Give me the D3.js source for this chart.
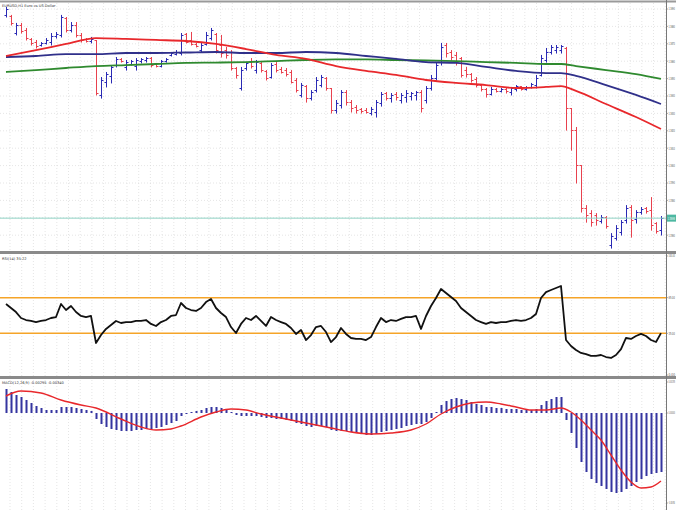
<!DOCTYPE html>
<html>
<head>
<meta charset="utf-8">
<script src="https://cdn.jsdelivr.net/npm/d3@7"></script>
<style>
  body { margin: 0; background: #fff; }
  svg { display: block; font-family: "DejaVu Sans", sans-serif; }
</style>
</head>
<body>
<div id="chart"></div>
<script>
// EURUSD H1 bars
const openP = [1.36866,1.36860,1.36762,1.36808,1.36779,1.36728,1.36710,1.36693,1.36705,1.36710,
  1.36745,1.36751,1.36848,1.36779,1.36808,1.36751,1.36728,1.36716,1.36722,1.36406,
  1.36480,1.36515,1.36578,1.36613,1.36567,1.36584,1.36572,1.36601,1.36607,1.36618,
  1.36584,1.36572,1.36601,1.36636,1.36641,1.36647,1.36756,1.36722,1.36699,1.36664,
  1.36699,1.36733,1.36756,1.36693,1.36664,1.36653,1.36561,1.36446,1.36561,1.36595,
  1.36549,1.36590,1.36544,1.36509,1.36584,1.36555,1.36549,1.36538,1.36492,1.36406,
  1.36457,1.36388,1.36434,1.36463,1.36503,1.36446,1.36319,1.36348,1.36423,1.36365,
  1.36337,1.36325,1.36319,1.36302,1.36308,1.36360,1.36417,1.36388,1.36411,1.36377,
  1.36394,1.36400,1.36406,1.36423,1.36377,1.36446,1.36503,1.36595,1.36693,1.36653,
  1.36636,1.36618,1.36549,1.36526,1.36498,1.36463,1.36440,1.36411,1.36440,1.36429,
  1.36440,1.36423,1.36440,1.36457,1.36440,1.36452,1.36463,1.36521,1.36607,1.36653,
  1.36664,1.36664,1.36676,1.36331,1.36204,1.36003,1.35756,1.35727,1.35716,1.35681,
  1.35704,1.35543,1.35583,1.35618,1.35687,1.35762,1.35693,1.35733,1.35756,1.35744,
  1.35670,1.35629];
const highP = [1.36912,1.36866,1.36820,1.36820,1.36791,1.36733,1.36722,1.36710,1.36733,1.36762,
  1.36768,1.36866,1.36854,1.36825,1.36825,1.36762,1.36733,1.36739,1.36722,1.36509,
  1.36538,1.36578,1.36624,1.36618,1.36607,1.36607,1.36618,1.36618,1.36624,1.36624,
  1.36590,1.36607,1.36618,1.36653,1.36664,1.36762,1.36762,1.36768,1.36705,1.36705,
  1.36768,1.36791,1.36762,1.36751,1.36682,1.36664,1.36567,1.36567,1.36595,1.36618,
  1.36607,1.36595,1.36549,1.36590,1.36595,1.36567,1.36561,1.36549,1.36503,1.36475,
  1.36463,1.36434,1.36509,1.36521,1.36509,1.36446,1.36377,1.36434,1.36434,1.36377,
  1.36348,1.36331,1.36331,1.36337,1.36377,1.36423,1.36423,1.36417,1.36423,1.36417,
  1.36434,1.36423,1.36429,1.36434,1.36457,1.36521,1.36590,1.36705,1.36705,1.36664,
  1.36653,1.36624,1.36567,1.36532,1.36509,1.36469,1.36446,1.36452,1.36446,1.36446,
  1.36446,1.36452,1.36463,1.36457,1.36457,1.36475,1.36521,1.36636,1.36676,1.36693,
  1.36693,1.36693,1.36682,1.36331,1.36222,1.36003,1.35773,1.35744,1.35727,1.35716,
  1.35710,1.35612,1.35658,1.35687,1.35773,1.35773,1.35744,1.35762,1.35762,1.35819,
  1.35675,1.35710];
const lowP = [1.36854,1.36808,1.36751,1.36762,1.36722,1.36693,1.36676,1.36687,1.36699,1.36693,
  1.36733,1.36739,1.36768,1.36768,1.36739,1.36710,1.36710,1.36705,1.36406,1.36388,
  1.36452,1.36475,1.36567,1.36595,1.36549,1.36578,1.36549,1.36590,1.36595,1.36567,
  1.36567,1.36567,1.36595,1.36630,1.36636,1.36636,1.36705,1.36693,1.36682,1.36653,
  1.36693,1.36722,1.36647,1.36624,1.36618,1.36549,1.36503,1.36434,1.36549,1.36561,
  1.36532,1.36538,1.36492,1.36503,1.36538,1.36532,1.36515,1.36475,1.36423,1.36394,
  1.36365,1.36377,1.36423,1.36452,1.36434,1.36302,1.36302,1.36331,1.36348,1.36308,
  1.36302,1.36302,1.36302,1.36291,1.36279,1.36342,1.36377,1.36365,1.36377,1.36360,
  1.36365,1.36377,1.36377,1.36308,1.36360,1.36434,1.36492,1.36578,1.36624,1.36607,
  1.36578,1.36509,1.36509,1.36480,1.36452,1.36429,1.36394,1.36406,1.36423,1.36423,
  1.36417,1.36406,1.36429,1.36434,1.36434,1.36446,1.36446,1.36515,1.36595,1.36641,
  1.36647,1.36647,1.36204,1.36089,1.35900,1.35733,1.35675,1.35652,1.35658,1.35670,
  1.35641,1.35526,1.35572,1.35601,1.35670,1.35589,1.35670,1.35721,1.35727,1.35629,
  1.35612,1.35601];
const closeP = [1.36900,1.36820,1.36808,1.36774,1.36733,1.36705,1.36687,1.36705,1.36722,1.36745,
  1.36756,1.36854,1.36779,1.36808,1.36751,1.36722,1.36716,1.36728,1.36417,1.36492,
  1.36526,1.36567,1.36613,1.36601,1.36595,1.36601,1.36607,1.36613,1.36618,1.36578,
  1.36572,1.36601,1.36613,1.36647,1.36653,1.36751,1.36710,1.36699,1.36687,1.36693,
  1.36751,1.36779,1.36664,1.36647,1.36636,1.36561,1.36521,1.36549,1.36590,1.36572,
  1.36595,1.36549,1.36503,1.36578,1.36549,1.36538,1.36526,1.36480,1.36434,1.36463,
  1.36388,1.36423,1.36492,1.36509,1.36446,1.36319,1.36360,1.36423,1.36365,1.36331,
  1.36319,1.36314,1.36308,1.36325,1.36365,1.36411,1.36388,1.36406,1.36394,1.36406,
  1.36417,1.36417,1.36423,1.36331,1.36446,1.36503,1.36578,1.36682,1.36647,1.36624,
  1.36595,1.36521,1.36526,1.36492,1.36463,1.36440,1.36411,1.36440,1.36429,1.36440,
  1.36429,1.36446,1.36457,1.36440,1.36452,1.36469,1.36503,1.36618,1.36653,1.36682,
  1.36682,1.36687,1.36331,1.36204,1.36003,1.35756,1.35716,1.35675,1.35687,1.35704,
  1.35652,1.35595,1.35641,1.35675,1.35756,1.35687,1.35733,1.35750,1.35739,1.35658,
  1.35624,1.35698];

// moving averages, read at these bar numbers
const maBars = [0,6,12,18,24,30,36,42,48,54,60,66,72,78,84,90,96,102,108,111,114,120,126,131];
const maRed = [1.36630,1.36664,1.36699,1.36733,1.36728,1.36722,1.36716,1.36699,1.36670,1.36636,
  1.36613,1.36572,1.36544,1.36521,1.36492,1.36475,1.36463,1.36446,1.36452,1.36457,
  1.36429,1.36354,1.36279,1.36210];
const maBlue = [1.36624,1.36630,1.36641,1.36641,1.36647,1.36647,1.36650,1.36653,1.36647,1.36647,
  1.36653,1.36647,1.36630,1.36613,1.36595,1.36590,1.36567,1.36544,1.36532,1.36532,
  1.36515,1.36463,1.36406,1.36354];
const maGreen = [1.36538,1.36549,1.36561,1.36572,1.36578,1.36584,1.36590,1.36592,1.36595,1.36601,
  1.36607,1.36610,1.36610,1.36607,1.36604,1.36601,1.36595,1.36590,1.36584,1.36584,
  1.36572,1.36549,1.36526,1.36498];

const rsiVals = [59.7,56.3,52.9,47.9,46.2,45.4,44.5,45.4,46.2,47.9,
  48.7,59.7,54.6,58.0,52.9,49.6,48.7,49.6,26.9,33.6,
  38.7,42.0,45.4,43.7,44.5,44.5,45.4,45.4,46.2,42.9,
  41.2,44.5,46.2,49.6,50.4,60.5,56.3,54.6,53.8,56.3,
  61.3,63.9,56.3,52.1,48.7,40.3,35.3,42.9,47.9,46.2,
  49.6,45.4,41.2,48.7,46.2,44.5,42.9,39.5,34.5,37.8,
  29.4,33.6,40.3,41.2,36.1,27.7,31.9,39.5,34.5,31.1,
  30.3,30.3,29.4,31.9,40.3,47.9,44.5,46.2,45.4,47.1,
  48.7,48.7,49.6,38.7,49.6,58.0,64.7,72.3,68.9,65.5,
  62.2,56.3,52.9,49.6,46.2,44.5,42.9,44.5,43.7,44.5,
  44.5,45.4,46.2,45.4,46.2,47.9,51.3,64.7,69.7,71.4,
  73.1,74.8,29.4,24.4,21.0,18.5,17.6,16.0,16.0,16.8,
  15.1,14.3,16.8,21.8,31.1,30.3,32.8,34.5,32.8,29.4,
  27.7,35.22];
const rsiLevels = [65, 35];
const rsiLabels = [100, 65, 35, 0];

const macdHist = [0.00120,0.00105,0.00090,0.00080,0.00065,0.00050,0.00035,0.00025,0.00015,0.00015,
  0.00015,0.00030,0.00030,0.00030,0.00025,0.00020,0.00015,0.00010,-0.00030,-0.00055,
  -0.00070,-0.00080,-0.00085,-0.00090,-0.00090,-0.00090,-0.00085,-0.00085,-0.00080,-0.00080,
  -0.00075,-0.00070,-0.00060,-0.00050,-0.00040,-0.00015,-0.00005,0.00005,0.00010,0.00015,
  0.00025,0.00030,0.00030,0.00025,0.00020,0.00005,-0.00010,-0.00015,-0.00015,-0.00015,
  -0.00015,-0.00020,-0.00025,-0.00025,-0.00030,-0.00030,-0.00035,-0.00040,-0.00050,-0.00055,
  -0.00065,-0.00070,-0.00065,-0.00065,-0.00070,-0.00085,-0.00090,-0.00090,-0.00090,-0.00095,
  -0.00100,-0.00105,-0.00110,-0.00110,-0.00105,-0.00095,-0.00090,-0.00085,-0.00080,-0.00075,
  -0.00065,-0.00060,-0.00055,-0.00055,-0.00045,-0.00025,0.00005,0.00040,0.00060,0.00070,
  0.00075,0.00070,0.00065,0.00055,0.00045,0.00040,0.00030,0.00030,0.00025,0.00025,
  0.00020,0.00020,0.00020,0.00015,0.00015,0.00015,0.00020,0.00040,0.00060,0.00070,
  0.00080,0.00080,-0.00035,-0.00100,-0.00175,-0.00245,-0.00295,-0.00330,-0.00350,-0.00365,
  -0.00380,-0.00395,-0.00400,-0.00395,-0.00380,-0.00365,-0.00345,-0.00330,-0.00315,-0.00305,
  -0.00300,-0.00295];
const sigBars = [0,3,7,11,15,18,23,27,30,33,35,39,42,45,48,51,55,59,65,69,73,77,81,84,87,90,93,96,99,102,105,108,111,113,115,117,119,121,123,125,127,129,131];
const sigVals = [0.00085,0.00110,0.00100,0.00065,0.00040,0.00025,-0.00030,-0.00070,-0.00085,-0.00080,
  -0.00065,-0.00020,0.00005,0.00020,0.00015,-0.00005,-0.00025,-0.00045,-0.00075,-0.00095,
  -0.00105,-0.00100,-0.00085,-0.00055,-0.00005,0.00030,0.00050,0.00055,0.00045,0.00030,
  0.00015,0.00015,0.00025,0.00005,-0.00035,-0.00085,-0.00135,-0.00210,-0.00285,-0.00345,
  -0.00375,-0.00370,-0.00340];
const macdLabels = [0.00155, 0, -0.0045];

const priceTicks = d3.range(0, 14).map(k => +(1.3690 - k * 0.0010).toFixed(4));

const W = 676, H = 510, plotR = 666;
const upCol = "#2a2ab4", dnCol = "#e8414e";

const svg = d3.select("#chart").append("svg")
  .attr("width", W).attr("height", H);

svg.append("rect").attr("width", W).attr("height", H).attr("fill", "#fff");

const x = d3.scaleLinear().domain([0, closeP.length - 1]).range([6, 661]);
const yP = d3.scaleLinear().domain([1.3560, 1.3690]).range([235.2, 9]);
const yR = d3.scaleLinear().domain([0, 100]).range([375, 256]);
const yM = d3.scaleLinear().domain([-0.0045, 0.00155]).range([503, 382]);

// grid
const grid = svg.append("g").attr("stroke", "#d4d4d4").attr("stroke-dasharray", "1,2").attr("stroke-width", 0.6);
[[3, 250], [255, 376], [380, 510]].forEach(([a, b]) => {
  d3.range(10, plotR, 11.7).forEach(gx => {
    grid.append("line").attr("x1", gx).attr("x2", gx).attr("y1", a).attr("y2", b);
  });
});
priceTicks.forEach(t => {
  grid.append("line").attr("x1", 0).attr("x2", plotR).attr("y1", yP(t)).attr("y2", yP(t));
});

// price bars
const idx = d3.range(closeP.length);
const bars = svg.append("g").attr("stroke-width", 1);
idx.forEach(i => {
  const col = closeP[i] >= openP[i] ? upCol : dnCol;
  const cx = Math.round(x(i)) + 0.5;
  bars.append("line").attr("x1", cx).attr("x2", cx)
    .attr("y1", yP(highP[i])).attr("y2", yP(lowP[i]) + 0.5).attr("stroke", col);
  bars.append("line").attr("x1", cx - 2).attr("x2", cx)
    .attr("y1", Math.round(yP(openP[i])) + 0.5).attr("y2", Math.round(yP(openP[i])) + 0.5).attr("stroke", col);
  bars.append("line").attr("x1", cx).attr("x2", cx + 2)
    .attr("y1", Math.round(yP(closeP[i])) + 0.5).attr("y2", Math.round(yP(closeP[i])) + 0.5).attr("stroke", col);
});

// moving averages
const maLine = d3.line().x(d => x(d[0])).y(d => yP(d[1])).curve(d3.curveMonotoneX);
[[maGreen, "#2f8a2f"], [maBlue, "#30308a"], [maRed, "#e8282c"]].forEach(([vals, col]) => {
  svg.append("path").datum(maBars.map((b, k) => [b, vals[k]]))
    .attr("d", maLine).attr("fill", "none").attr("stroke", col).attr("stroke-width", 1.8);
});

// current price line
const lastClose = closeP[closeP.length - 1];
svg.append("line").attr("x1", 0).attr("x2", plotR).attr("y1", yP(lastClose)).attr("y2", yP(lastClose))
  .attr("stroke", "#8fd3c4").attr("stroke-width", 1);

// RSI pane
svg.append("g").selectAll("line").data(rsiLevels).join("line")
  .attr("x1", 0).attr("x2", plotR).attr("y1", d => yR(d)).attr("y2", d => yR(d))
  .attr("stroke", "#f5a428").attr("stroke-width", 1.5);
svg.append("path").datum(rsiVals)
  .attr("d", d3.line().x((d, i) => x(i)).y(d => yR(d)))
  .attr("fill", "none").attr("stroke", "#111").attr("stroke-width", 1.8).attr("stroke-linejoin", "round");

// MACD pane
svg.append("g").selectAll("rect").data(macdHist).join("rect")
  .attr("x", (d, i) => Math.round(x(i)) - 0.5)
  .attr("width", 2)
  .attr("y", d => Math.min(yM(0), yM(d)))
  .attr("height", d => Math.abs(yM(d) - yM(0)))
  .attr("fill", "#3535a0");
svg.append("path").datum(sigBars.map((b, k) => [b, sigVals[k]]))
  .attr("d", d3.line().x(d => x(d[0])).y(d => yM(d[1])).curve(d3.curveMonotoneX))
  .attr("fill", "none").attr("stroke", "#e8282c").attr("stroke-width", 1.4);

// frame and separators
svg.append("rect").attr("x", 0).attr("y", 0.5).attr("width", W).attr("height", 2).attr("fill", "#9a9a9a");
[251, 376].forEach(sy => {
  svg.append("rect").attr("x", 0).attr("y", sy).attr("width", W).attr("height", 3).attr("fill", "#8a8a8a");
});
svg.append("line").attr("x1", plotR + 0.5).attr("x2", plotR + 0.5).attr("y1", 0).attr("y2", H)
  .attr("stroke", "#777").attr("stroke-width", 1);

// small text squeezed horizontally so it fits the strip right of the plot
function fitText(g, tx, ty, txt, maxW, fill) {
  const t = g.append("text").attr("fill", fill).text(txt);
  const w = t.node().getComputedTextLength();
  const s = Math.min(1, maxW / w);
  t.attr("transform", `translate(${tx},${ty}) scale(${s},1)`);
}

const lab = svg.append("g").attr("font-size", 4);
function axisLabel(yPos, txt) {
  lab.append("line").attr("x1", plotR).attr("x2", plotR + 2).attr("y1", yPos).attr("y2", yPos)
    .attr("stroke", "#777").attr("stroke-width", 0.6);
  fitText(lab, plotR + 2.5, yPos + 1.4, txt, 6.5, "#555");
}
priceTicks.forEach(t => axisLabel(yP(t), t.toFixed(4)));
rsiLabels.forEach(v => axisLabel(yR(v), v.toFixed(2)));
macdLabels.forEach(v => axisLabel(yM(v), v.toFixed(5)));

// current price tag
svg.append("rect").attr("x", plotR + 1).attr("y", yP(lastClose) - 3.5).attr("width", W - plotR - 1).attr("height", 7)
  .attr("fill", "#4db8a2");
fitText(svg.append("g").attr("font-size", 4), plotR + 1.8, yP(lastClose) + 1.4, lastClose.toFixed(5), 7, "#fff");

// pane captions
const cap = svg.append("g").attr("font-size", 3.6).attr("fill", "#333");
cap.append("text").attr("x", 2).attr("y", 7).text("EURUSD,H1  Euro vs US Dollar");
cap.append("text").attr("x", 2).attr("y", 260).text("RSI(14) " + rsiVals[rsiVals.length - 1].toFixed(2));
cap.append("text").attr("x", 2).attr("y", 384)
  .text("MACD(12,26,9) " + macdHist[macdHist.length - 1].toFixed(5) + " " + sigVals[sigVals.length - 1].toFixed(5));
</script>
</body>
</html>
